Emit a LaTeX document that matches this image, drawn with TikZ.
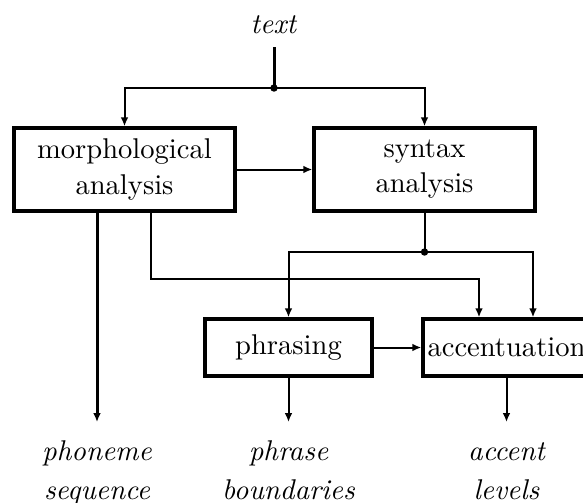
\documentclass[tikz,border=0pt]{standalone}
\usetikzlibrary{arrows.meta}
\begin{document}
\begin{tikzpicture}[x=0.35pt,y=-0.35pt,
  bigbox/.style={draw, line width=1.2pt, minimum width=77.35pt, minimum height=29.05pt,
    align=center, inner sep=0pt, font=\fontsize{10}{12.3}\selectfont},
  smallbox/.style={draw, line width=1.2pt, minimum width=58.45pt, minimum height=19.95pt,
    inner sep=0pt, font=\fontsize{10}{12}\selectfont},
  conn/.style={line width=0.7pt, -{Latex[length=3.1pt,width=2.7pt]}},
  plainline/.style={line width=0.7pt},
  thickline/.style={line width=1.05pt},
  thickconn/.style={line width=1.05pt, -{Latex[length=3.1pt,width=2.7pt]}},
  outlabel/.style={align=center, anchor=north, inner sep=0pt, font=\itshape\fontsize{10}{13.7}\selectfont}
]
\useasboundingbox (0,0) rectangle (583,502);
\clip (0,0) rectangle (583,502);

% nodes
\node[anchor=base, inner sep=0pt] (txt) at (274,33) {\textit{text}};
\node[bigbox] (morph) at (124.5,169.5) {morphological\\analysis};
\node[bigbox] (syn) at (424.5,169.5) {syntax\\analysis};
\node[smallbox] (phr) at (288.5,347.5) {phrasing};
\node[smallbox] (acc) at (506.5,347.5) {accentuation};
\node[outlabel] (o1) at (97,432.5) {\strut phoneme\\sequence};
\node[outlabel] (o2) at (288.5,432.5) {\strut phrase\\boundaries};
\node[outlabel] (o3) at (506.5,432.5) {\strut accent\\levels};

% coordinates
\coordinate (t0) at (274,47);
\coordinate (j1) at (274,88);
\coordinate (j2) at (424.5,252);
\coordinate (m1) at (97,422);
\coordinate (m2) at (151,279);
\coordinate (a1) at (479,279);
\coordinate (a2) at (533,252);
\coordinate (e2) at (288.5,422);
\coordinate (e3) at (506.5,422);

% connectors
\draw[thickline] (t0) -- (j1);
\draw[conn] (j1) -| (morph.north);
\draw[conn] (j1) -| (syn.north);
\fill (j1) circle (1.3pt);

\draw[conn] (morph) -- (syn);
\draw[thickconn] (morph.south -| m1) -- (m1);
\draw[conn] (morph.south -| m2) -- (m2) -- (a1) -- (a1 |- acc.north);

\draw[plainline] (syn.south) -- (j2);
\draw[conn] (j2) -| (phr.north);
\draw[conn] (j2) -- (a2) -- (a2 |- acc.north);
\fill (j2) circle (1.3pt);

\draw[conn] (phr) -- (acc);
\draw[conn] (phr.south) -- (e2);
\draw[conn] (acc.south) -- (e3);
\end{tikzpicture}
\end{document}
